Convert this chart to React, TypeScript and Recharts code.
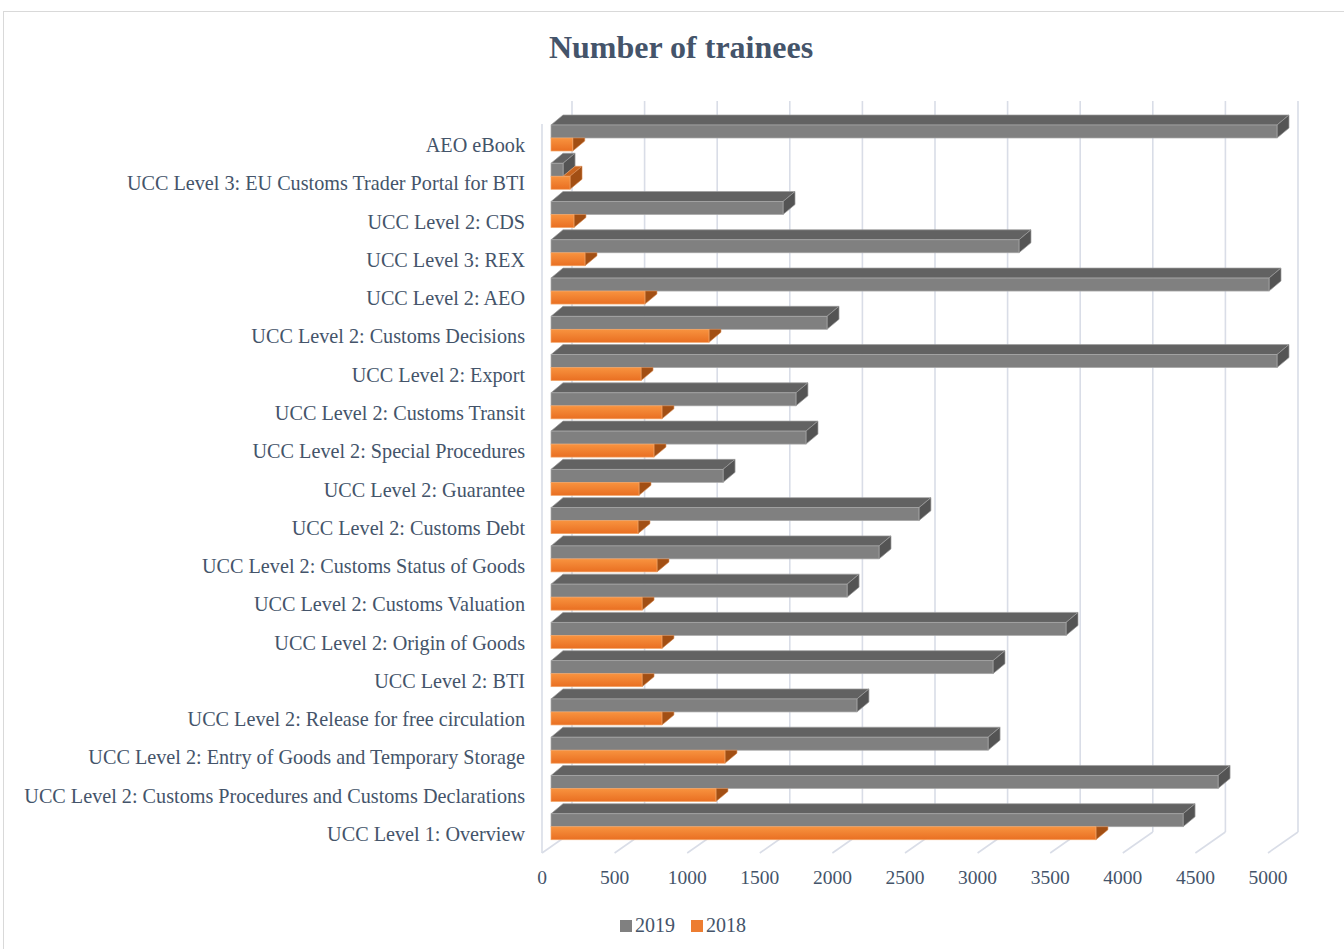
import React from 'react';
import { BarChart, Bar, XAxis, YAxis, CartesianGrid, Legend } from 'recharts';

const categories = [
  'AEO eBook',
  'UCC Level 3: EU Customs Trader Portal for BTI',
  'UCC Level 2: CDS',
  'UCC Level 3: REX',
  'UCC Level 2: AEO',
  'UCC Level 2: Customs Decisions',
  'UCC Level 2: Export',
  'UCC Level 2: Customs Transit',
  'UCC Level 2: Special Procedures',
  'UCC Level 2: Guarantee',
  'UCC Level 2: Customs Debt',
  'UCC Level 2: Customs Status of Goods',
  'UCC Level 2: Customs Valuation',
  'UCC Level 2: Origin of Goods',
  'UCC Level 2: BTI',
  'UCC Level 2: Release for free circulation',
  'UCC Level 2: Entry of Goods and Temporary Storage',
  'UCC Level 2: Customs Procedures and Customs Declarations',
  'UCC Level 1: Overview',
];

const trainees2019 = [5000, 83, 1598, 3223, 4945, 1901, 5000, 1687, 1756, 1185, 2534, 2259, 2039, 3547, 3044, 2107, 3010, 4594, 4353];
const trainees2018 = [150, 131, 158, 234, 647, 1088, 620, 764, 709, 606, 599, 730, 627, 764, 627, 764, 1198, 1136, 3753];

const xTicks = [0, 500, 1000, 1500, 2000, 2500, 3000, 3500, 4000, 4500, 5000];

const data = categories.map((name, i) => ({ name, y2019: trainees2019[i], y2018: trainees2018[i] }));

const W = 1344;
const H = 949;
const PLOT_LEFT = 551;
const DX = 12;
const DY = -10;
const TEXT = '#44546A';
const FONT = '"Liberation Serif", "Times New Roman", serif';
const GRID = '#d9dde7';

const GrayBar = (p: any) => {
  const { x, y, width, height } = p;
  if (width == null || width <= 0) return null;
  const x1 = x + width;
  const yb = y + height;
  return (
    <g>
      <polygon points={`${x},${y} ${x1},${y} ${x1 + DX},${y + DY} ${x + DX},${y + DY}`} fill="#626262" stroke="#9c9c9c" strokeWidth={0.7} />
      <polygon points={`${x1},${y} ${x1 + DX},${y + DY} ${x1 + DX},${yb + DY} ${x1},${yb}`} fill="#545454" stroke="#9c9c9c" strokeWidth={0.7} />
      <rect x={x} y={y} width={width} height={height} fill="#808080" stroke="#a8a8a8" strokeWidth={0.7} />
    </g>
  );
};

const OrangeBar = (p: any) => {
  const { x, y, width, height, payload } = p;
  if (width == null || width <= 0) return null;
  const x1 = x + width;
  const yb = y + height;
  const gEnd = x + (payload.y2019 / payload.y2018) * width;
  const parts: any[] = [];
  if (gEnd < x1) {
    const s = Math.max(x, gEnd);
    parts.push(
      <polygon key="t" points={`${s},${y} ${x1},${y} ${x1 + DX},${y + DY} ${s + DX},${y + DY}`} fill="#c9651f" stroke="#e59a63" strokeWidth={0.6} />
    );
    parts.push(
      <polygon key="s" points={`${x1},${y} ${x1 + DX},${y + DY} ${x1 + DX},${yb + DY} ${x1},${yb}`} fill="#a24f14" stroke="#d98a50" strokeWidth={0.6} />
    );
  } else {
    parts.push(
      <polygon key="s" points={`${x1},${y} ${x1 + DX},${y} ${x1 + DX},${yb + DY} ${x1},${yb}`} fill="#a24f14" stroke="#d98a50" strokeWidth={0.6} />
    );
  }
  return (
    <g>
      {parts}
      <rect x={x} y={y} width={width} height={height} fill="url(#orangeFront)" stroke="#f3a466" strokeWidth={0.7} />
    </g>
  );
};

const renderWall = (p: any) => {
  const x = p.x1;
  const top = p.y1;
  const bot = p.y2;
  return (
    <g key={p.key ?? `w-${x}`}>
      <line x1={x + 21} y1={top - 18} x2={x + 21} y2={bot - 14} stroke={GRID} strokeWidth={1.6} />
      <line x1={x - 9} y1={bot + 7} x2={x + 21} y2={bot - 14} stroke={GRID} strokeWidth={1.6} />
      {Math.abs(x - PLOT_LEFT) < 1 ? (
        <line x1={x - 9} y1={top + 5} x2={x - 9} y2={bot + 7} stroke={GRID} strokeWidth={1.6} />
      ) : null}
    </g>
  );
};

const CatTick = (p: any) => {
  const { x, y, payload } = p;
  return (
    <text x={x - 18} y={y + 7} textAnchor="end" dominantBaseline="central" fill={TEXT} fontFamily={FONT} fontSize={20.2}>
      {payload.value}
    </text>
  );
};

const ValTick = (p: any) => {
  const { x, y, payload } = p;
  return (
    <text x={x - 9} y={y + 23} textAnchor="middle" dominantBaseline="central" fill={TEXT} fontFamily={FONT} fontSize={19.5}>
      {payload.value}
    </text>
  );
};

const LegendContent = () => (
  <div style={{ display: 'flex', justifyContent: 'center', alignItems: 'center', fontFamily: FONT, fontSize: 20, color: TEXT, paddingLeft: 22 }}>
    <span style={{ display: 'inline-block', width: 12, height: 12, background: '#808080', marginRight: 3 }} />
    <span style={{ marginRight: 16 }}>2019</span>
    <span style={{ display: 'inline-block', width: 12, height: 12, background: '#ED7D31', marginRight: 3 }} />
    <span>2018</span>
  </div>
);

export default function App() {
  return (
    <div style={{ position: 'absolute', left: 0, top: 0, width: W, height: H, overflow: 'hidden', background: '#fff' }}>
      <div style={{ position: 'absolute', left: 3, top: 11, width: W + 20, height: H + 20, border: '1px solid #d9d9d9', boxSizing: 'border-box' }} />
      <div style={{ position: 'absolute', left: 281, width: 800, top: 27, textAlign: 'center', fontFamily: FONT, fontWeight: 'bold', fontSize: 32, color: TEXT, lineHeight: '40px' }}>
        Number of trainees
      </div>
      <div style={{ position: 'absolute', left: 0, top: 0 }}>
        <BarChart
          width={W}
          height={H}
          data={data}
          layout="vertical"
          margin={{ top: 119, right: 67, bottom: 73, left: 0 }}
          barSize={13}
          barGap={0}
        >
          <defs>
            <linearGradient id="orangeFront" x1="0" y1="0" x2="0" y2="1">
              <stop offset="0%" stopColor="#f8933f" />
              <stop offset="100%" stopColor="#e96f22" />
            </linearGradient>
          </defs>
          <CartesianGrid horizontal={false} vertical={renderWall} />
          <XAxis type="number" domain={[0, 5000]} ticks={xTicks} axisLine={false} tickLine={false} height={30} tick={<ValTick />} interval={0} />
          <YAxis type="category" dataKey="name" width={551} axisLine={false} tickLine={false} tick={<CatTick />} interval={0} />
          <Legend
            layout="horizontal"
            verticalAlign="middle"
            align="center"
            content={<LegendContent />}
            wrapperStyle={{ top: 914, left: 0, width: W }}
          />
          <Bar dataKey="y2019" name="2019" fill="#808080" shape={<GrayBar />} isAnimationActive={false} />
          <Bar dataKey="y2018" name="2018" fill="#ED7D31" shape={<OrangeBar />} isAnimationActive={false} />
        </BarChart>
      </div>
    </div>
  );
}
